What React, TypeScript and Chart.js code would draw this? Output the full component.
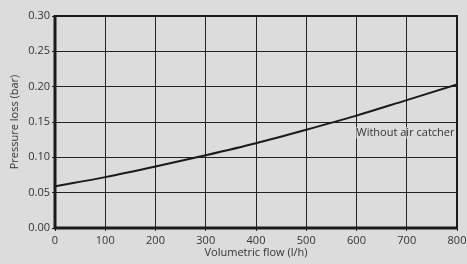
import React, { useEffect, useRef } from "react";
import { Chart, registerables } from "chart.js";

Chart.register(...registerables);

const flow = [0, 100, 200, 300, 400, 500, 600, 700, 800];
const pressureLoss = [0.059, 0.072, 0.087, 0.103, 0.12, 0.139, 0.159, 0.181, 0.203];
const seriesLabel = "Without air catcher";
const xTitle = "Volumetric flow (l/h)";
const yTitle = "Pressure loss (bar)";

const FONT = "'Open Sans', 'DejaVu Sans', sans-serif";

const framePlugin = {
  id: "frame",
  afterDatasetsDraw(chart: any) {
    const { ctx, chartArea } = chart;
    const { left, right, top, bottom } = chartArea;
    ctx.save();
    ctx.strokeStyle = "#1a1a1a";
    ctx.lineWidth = 2;
    ctx.beginPath();
    ctx.moveTo(left, top);
    ctx.lineTo(right, top);
    ctx.lineTo(right, bottom);
    ctx.stroke();
    ctx.lineWidth = 3;
    ctx.beginPath();
    ctx.moveTo(left, top - 1);
    ctx.lineTo(left, bottom);
    ctx.lineTo(right + 1, bottom);
    ctx.stroke();
    // series label
    const xs = chart.scales.x;
    const ys = chart.scales.y;
    const x = xs.getPixelForValue(795);
    const y = ys.getPixelForValue(0.135);
    ctx.font = `11px ${FONT}`;
    ctx.textAlign = "right";
    ctx.textBaseline = "middle";
    const w = ctx.measureText(seriesLabel).width;
    ctx.fillStyle = "rgba(220,220,220,0.6)";
    ctx.fillRect(x - w - 1, y - 6, w + 2, 12);
    ctx.fillStyle = "#333";
    ctx.fillText(seriesLabel, x, y);
    ctx.restore();
  },
};

export default function App() {
  const ref = useRef<HTMLCanvasElement>(null);
  useEffect(() => {
    document.body.style.margin = "0";
    const chart = new Chart(ref.current!, {
      type: "line",
      data: {
        labels: flow,
        datasets: [
          {
            label: seriesLabel,
            data: flow.map((f, i) => ({ x: f, y: pressureLoss[i] })),
            borderColor: "#1a1a1a",
            borderWidth: 2,
            pointRadius: 0,
            tension: 0.4,
            cubicInterpolationMode: "monotone",
            fill: false,
          },
        ],
      },
      options: {
        animation: false,
        responsive: false,
        maintainAspectRatio: false,
        layout: { padding: { top: 16, right: 10, left: 0, bottom: 0 } },
        plugins: { legend: { display: false }, tooltip: { enabled: false } },
        scales: {
          x: {
            type: "linear",
            min: 0,
            max: 800,
            afterFit(scale: any) {
              scale.height = 36;
              scale.paddingRight = 0;
              scale.paddingLeft = 0;
            },
            ticks: {
              stepSize: 100,
              color: "#333",
              font: { family: FONT, size: 11 },
              padding: 3,
              maxRotation: 0,
            },
            grid: { color: "#222", lineWidth: 1, tickLength: 3 },
            border: { display: false },
            title: {
              display: true,
              text: xTitle,
              color: "#333",
              font: { family: FONT, size: 11 },
              padding: { top: 1, bottom: 5 },
            },
          },
          y: {
            min: 0,
            max: 0.3,
            afterFit(scale: any) {
              scale.width = 55;
            },
            ticks: {
              stepSize: 0.05,
              color: "#333",
              font: { family: FONT, size: 11 },
              padding: 2,
              callback: (v: any) => Number(v).toFixed(2),
            },
            grid: { color: "#222", lineWidth: 1, tickLength: 3 },
            border: { display: false },
            title: {
              display: true,
              text: yTitle,
              color: "#333",
              font: { family: FONT, size: 11 },
              padding: { top: 8, bottom: 4 },
            },
          },
        },
      },
      plugins: [framePlugin],
    });
    return () => chart.destroy();
  }, []);
  return (
    <div style={{ width: 467, height: 264, background: "#dcdcdc" }}>
      <canvas ref={ref} width={467} height={264} style={{ display: "block" }} />
    </div>
  );
}
